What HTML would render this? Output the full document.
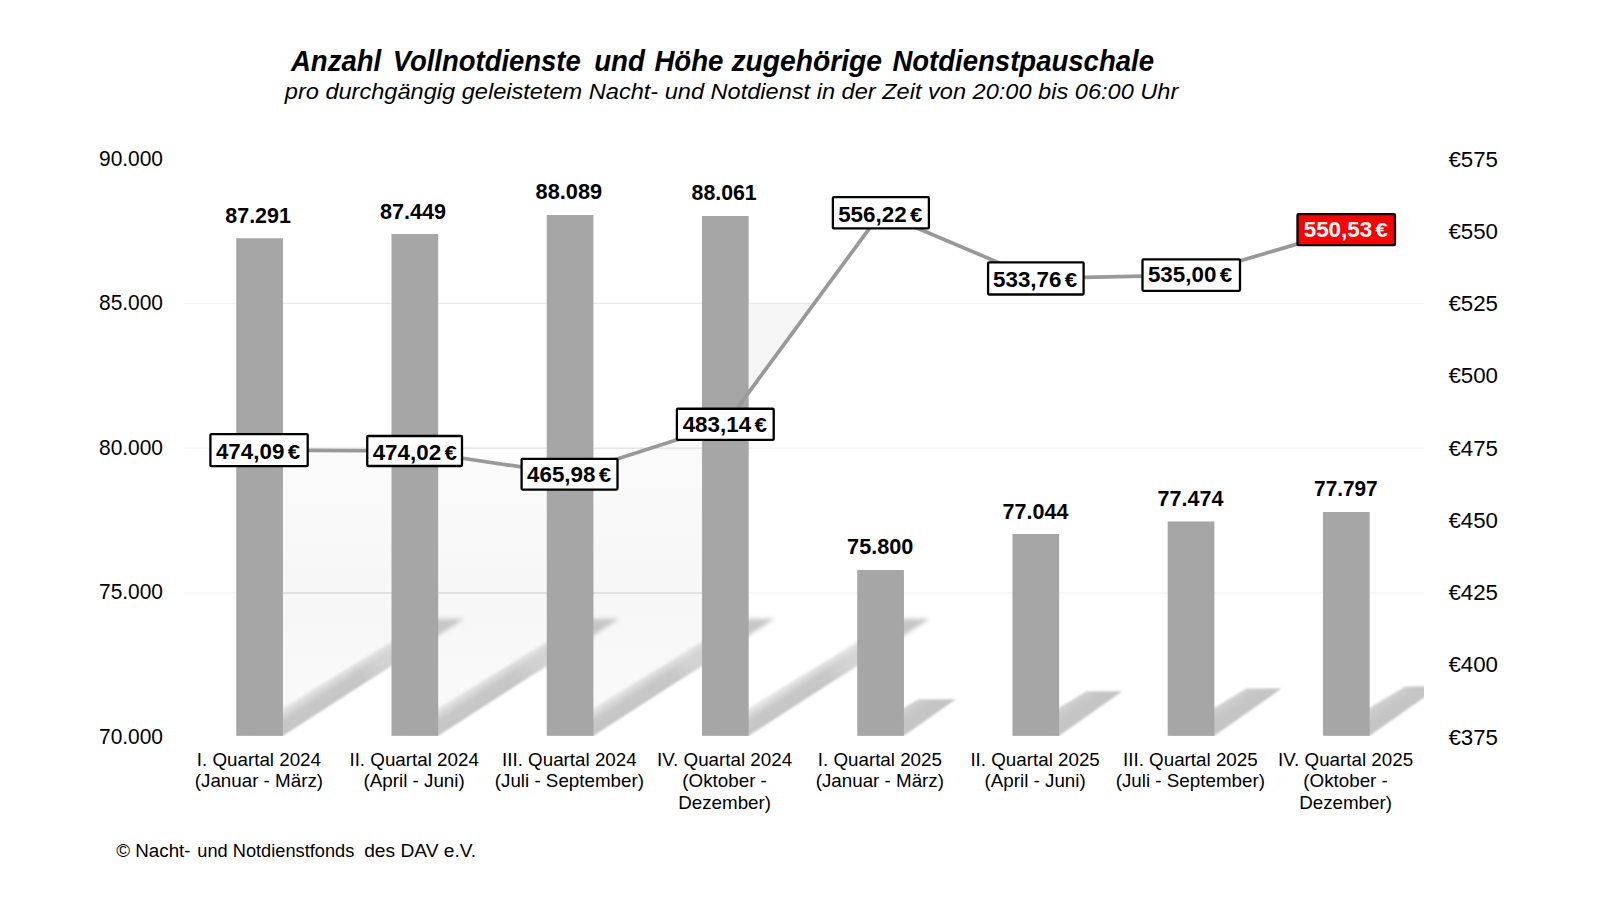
<!DOCTYPE html>
<html lang="de"><head><meta charset="utf-8"><title>Anzahl Vollnotdienste und Notdienstpauschale</title>
<style>html,body{margin:0;padding:0;background:#fff;width:1600px;height:900px;overflow:hidden}svg{display:block}text{font-family:'Liberation Sans', Arial, sans-serif;fill:#000}</style>
</head><body>
<svg width="1600" height="900" viewBox="0 0 1600 900">
<defs>
<filter id="b2" x="-20%" y="-20%" width="140%" height="140%"><feGaussianBlur stdDeviation="2.2"/></filter>
<filter id="b1" x="-20%" y="-20%" width="140%" height="140%"><feGaussianBlur stdDeviation="1.3"/></filter>
<filter id="b3" x="-20%" y="-20%" width="140%" height="140%"><feGaussianBlur stdDeviation="3"/></filter>
<filter id="b1b" x="-20%" y="-20%" width="140%" height="140%"><feGaussianBlur stdDeviation="1.6"/></filter>
<clipPath id="plot"><rect x="184" y="150" width="1240" height="586"/></clipPath>
<linearGradient id="gshade" x1="0" y1="0" x2="0" y2="1"><stop offset="0" stop-color="#fbfbfb"/><stop offset="0.5" stop-color="#f7f7f7"/><stop offset="1" stop-color="#fafafa"/></linearGradient>
</defs>
<rect width="1600" height="900" fill="#ffffff"/>
<g clip-path="url(#plot)">
<polygon points="283.0,450.3 391.5,450.9 391.5,665.5 283.0,735.8" fill="url(#gshade)"/>
<polygon points="438.2,454.5 546.7,470.8 546.7,665.5 438.2,735.8" fill="url(#gshade)"/>
<polygon points="593.4,466.6 702.0,431.8 702.0,665.5 593.4,735.8" fill="url(#gshade)"/>
<polygon points="748.7,303.4 814.2,303.4 748.7,392.5" fill="#f5f5f5"/>
</g>
<line x1="184.5" x2="1424" y1="303.4" y2="303.4" stroke="#f4f4f4" stroke-width="1.4"/>
<line x1="184.5" x2="1424" y1="448.3" y2="448.3" stroke="#f5f5f5" stroke-width="1.4"/>
<line x1="184.5" x2="1424" y1="593" y2="593" stroke="#f5f5f5" stroke-width="1.4"/>
<line x1="283" x2="703" y1="593" y2="593" stroke="#dadada" stroke-width="1.6"/>
<line x1="283" x2="703" y1="448.3" y2="448.3" stroke="#e6e6e6" stroke-width="1.4"/>
<line x1="283" x2="815" y1="303.4" y2="303.4" stroke="#eaeaea" stroke-width="1.4"/>
<defs><linearGradient id="sg0" gradientUnits="userSpaceOnUse" x1="282.95" y1="735.80" x2="269.19" y2="714.51"><stop offset="0" stop-color="#c5c5c5"/><stop offset="0.48" stop-color="#c8c8c8"/><stop offset="0.85" stop-color="#cacaca" stop-opacity="0.45"/><stop offset="1" stop-color="#cacaca" stop-opacity="0.08"/></linearGradient><linearGradient id="ma0" gradientUnits="userSpaceOnUse" x1="282.95" y1="735.80" x2="463.95" y2="618.80"><stop offset="0" stop-color="#fff"/><stop offset="0.45" stop-color="#fff"/><stop offset="0.80" stop-color="#000"/><stop offset="1" stop-color="#000"/></linearGradient><linearGradient id="mb0" gradientUnits="userSpaceOnUse" x1="282.95" y1="735.80" x2="463.95" y2="618.80"><stop offset="0" stop-color="#000"/><stop offset="0.45" stop-color="#000"/><stop offset="0.80" stop-color="#fff"/><stop offset="1" stop-color="#fff"/></linearGradient><mask id="mka0" maskUnits="userSpaceOnUse" x="0" y="0" width="1600" height="900"><rect x="0" y="0" width="1600" height="900" fill="url(#ma0)"/></mask><mask id="mkb0" maskUnits="userSpaceOnUse" x="0" y="0" width="1600" height="900"><rect x="0" y="0" width="1600" height="900" fill="url(#mb0)"/></mask><linearGradient id="sg1" gradientUnits="userSpaceOnUse" x1="438.19" y1="735.80" x2="424.43" y2="714.51"><stop offset="0" stop-color="#c5c5c5"/><stop offset="0.48" stop-color="#c8c8c8"/><stop offset="0.85" stop-color="#cacaca" stop-opacity="0.45"/><stop offset="1" stop-color="#cacaca" stop-opacity="0.08"/></linearGradient><linearGradient id="ma1" gradientUnits="userSpaceOnUse" x1="438.19" y1="735.80" x2="619.19" y2="618.80"><stop offset="0" stop-color="#fff"/><stop offset="0.45" stop-color="#fff"/><stop offset="0.80" stop-color="#000"/><stop offset="1" stop-color="#000"/></linearGradient><linearGradient id="mb1" gradientUnits="userSpaceOnUse" x1="438.19" y1="735.80" x2="619.19" y2="618.80"><stop offset="0" stop-color="#000"/><stop offset="0.45" stop-color="#000"/><stop offset="0.80" stop-color="#fff"/><stop offset="1" stop-color="#fff"/></linearGradient><mask id="mka1" maskUnits="userSpaceOnUse" x="0" y="0" width="1600" height="900"><rect x="0" y="0" width="1600" height="900" fill="url(#ma1)"/></mask><mask id="mkb1" maskUnits="userSpaceOnUse" x="0" y="0" width="1600" height="900"><rect x="0" y="0" width="1600" height="900" fill="url(#mb1)"/></mask><linearGradient id="sg2" gradientUnits="userSpaceOnUse" x1="593.43" y1="735.80" x2="579.67" y2="714.51"><stop offset="0" stop-color="#c5c5c5"/><stop offset="0.48" stop-color="#c8c8c8"/><stop offset="0.85" stop-color="#cacaca" stop-opacity="0.45"/><stop offset="1" stop-color="#cacaca" stop-opacity="0.08"/></linearGradient><linearGradient id="ma2" gradientUnits="userSpaceOnUse" x1="593.43" y1="735.80" x2="774.43" y2="618.80"><stop offset="0" stop-color="#fff"/><stop offset="0.45" stop-color="#fff"/><stop offset="0.80" stop-color="#000"/><stop offset="1" stop-color="#000"/></linearGradient><linearGradient id="mb2" gradientUnits="userSpaceOnUse" x1="593.43" y1="735.80" x2="774.43" y2="618.80"><stop offset="0" stop-color="#000"/><stop offset="0.45" stop-color="#000"/><stop offset="0.80" stop-color="#fff"/><stop offset="1" stop-color="#fff"/></linearGradient><mask id="mka2" maskUnits="userSpaceOnUse" x="0" y="0" width="1600" height="900"><rect x="0" y="0" width="1600" height="900" fill="url(#ma2)"/></mask><mask id="mkb2" maskUnits="userSpaceOnUse" x="0" y="0" width="1600" height="900"><rect x="0" y="0" width="1600" height="900" fill="url(#mb2)"/></mask><linearGradient id="sg3" gradientUnits="userSpaceOnUse" x1="748.67" y1="735.80" x2="734.91" y2="714.51"><stop offset="0" stop-color="#c5c5c5"/><stop offset="0.48" stop-color="#c8c8c8"/><stop offset="0.85" stop-color="#cacaca" stop-opacity="0.45"/><stop offset="1" stop-color="#cacaca" stop-opacity="0.08"/></linearGradient><linearGradient id="ma3" gradientUnits="userSpaceOnUse" x1="748.67" y1="735.80" x2="929.67" y2="618.80"><stop offset="0" stop-color="#fff"/><stop offset="0.45" stop-color="#fff"/><stop offset="0.80" stop-color="#000"/><stop offset="1" stop-color="#000"/></linearGradient><linearGradient id="mb3" gradientUnits="userSpaceOnUse" x1="748.67" y1="735.80" x2="929.67" y2="618.80"><stop offset="0" stop-color="#000"/><stop offset="0.45" stop-color="#000"/><stop offset="0.80" stop-color="#fff"/><stop offset="1" stop-color="#fff"/></linearGradient><mask id="mka3" maskUnits="userSpaceOnUse" x="0" y="0" width="1600" height="900"><rect x="0" y="0" width="1600" height="900" fill="url(#ma3)"/></mask><mask id="mkb3" maskUnits="userSpaceOnUse" x="0" y="0" width="1600" height="900"><rect x="0" y="0" width="1600" height="900" fill="url(#mb3)"/></mask><linearGradient id="sg4" gradientUnits="userSpaceOnUse" x1="903.91" y1="735.80" x2="888.42" y2="713.81"><stop offset="0" stop-color="#c4c4c4"/><stop offset="0.45" stop-color="#c6c6c6"/><stop offset="1" stop-color="#d2d2d2" stop-opacity="0.9"/></linearGradient><linearGradient id="ma4" gradientUnits="userSpaceOnUse" x1="903.91" y1="735.80" x2="955.81" y2="699.24"><stop offset="0" stop-color="#fff"/><stop offset="0.50" stop-color="#fff"/><stop offset="0.90" stop-color="#000"/><stop offset="1" stop-color="#000"/></linearGradient><linearGradient id="mb4" gradientUnits="userSpaceOnUse" x1="903.91" y1="735.80" x2="955.81" y2="699.24"><stop offset="0" stop-color="#000"/><stop offset="0.50" stop-color="#000"/><stop offset="0.90" stop-color="#fff"/><stop offset="1" stop-color="#fff"/></linearGradient><mask id="mka4" maskUnits="userSpaceOnUse" x="0" y="0" width="1600" height="900"><rect x="0" y="0" width="1600" height="900" fill="url(#ma4)"/></mask><mask id="mkb4" maskUnits="userSpaceOnUse" x="0" y="0" width="1600" height="900"><rect x="0" y="0" width="1600" height="900" fill="url(#mb4)"/></mask><linearGradient id="sg5" gradientUnits="userSpaceOnUse" x1="1059.15" y1="735.80" x2="1043.66" y2="713.81"><stop offset="0" stop-color="#c4c4c4"/><stop offset="0.45" stop-color="#c6c6c6"/><stop offset="1" stop-color="#d2d2d2" stop-opacity="0.9"/></linearGradient><linearGradient id="ma5" gradientUnits="userSpaceOnUse" x1="1059.15" y1="735.80" x2="1122.31" y2="691.30"><stop offset="0" stop-color="#fff"/><stop offset="0.50" stop-color="#fff"/><stop offset="0.90" stop-color="#000"/><stop offset="1" stop-color="#000"/></linearGradient><linearGradient id="mb5" gradientUnits="userSpaceOnUse" x1="1059.15" y1="735.80" x2="1122.31" y2="691.30"><stop offset="0" stop-color="#000"/><stop offset="0.50" stop-color="#000"/><stop offset="0.90" stop-color="#fff"/><stop offset="1" stop-color="#fff"/></linearGradient><mask id="mka5" maskUnits="userSpaceOnUse" x="0" y="0" width="1600" height="900"><rect x="0" y="0" width="1600" height="900" fill="url(#ma5)"/></mask><mask id="mkb5" maskUnits="userSpaceOnUse" x="0" y="0" width="1600" height="900"><rect x="0" y="0" width="1600" height="900" fill="url(#mb5)"/></mask><linearGradient id="sg6" gradientUnits="userSpaceOnUse" x1="1214.39" y1="735.80" x2="1198.90" y2="713.81"><stop offset="0" stop-color="#c4c4c4"/><stop offset="0.45" stop-color="#c6c6c6"/><stop offset="1" stop-color="#d2d2d2" stop-opacity="0.9"/></linearGradient><linearGradient id="ma6" gradientUnits="userSpaceOnUse" x1="1214.39" y1="735.80" x2="1281.47" y2="688.55"><stop offset="0" stop-color="#fff"/><stop offset="0.50" stop-color="#fff"/><stop offset="0.90" stop-color="#000"/><stop offset="1" stop-color="#000"/></linearGradient><linearGradient id="mb6" gradientUnits="userSpaceOnUse" x1="1214.39" y1="735.80" x2="1281.47" y2="688.55"><stop offset="0" stop-color="#000"/><stop offset="0.50" stop-color="#000"/><stop offset="0.90" stop-color="#fff"/><stop offset="1" stop-color="#fff"/></linearGradient><mask id="mka6" maskUnits="userSpaceOnUse" x="0" y="0" width="1600" height="900"><rect x="0" y="0" width="1600" height="900" fill="url(#ma6)"/></mask><mask id="mkb6" maskUnits="userSpaceOnUse" x="0" y="0" width="1600" height="900"><rect x="0" y="0" width="1600" height="900" fill="url(#mb6)"/></mask><linearGradient id="sg7" gradientUnits="userSpaceOnUse" x1="1369.63" y1="735.80" x2="1354.14" y2="713.81"><stop offset="0" stop-color="#c4c4c4"/><stop offset="0.45" stop-color="#c6c6c6"/><stop offset="1" stop-color="#d2d2d2" stop-opacity="0.9"/></linearGradient><linearGradient id="ma7" gradientUnits="userSpaceOnUse" x1="1369.63" y1="735.80" x2="1439.68" y2="686.45"><stop offset="0" stop-color="#fff"/><stop offset="0.50" stop-color="#fff"/><stop offset="0.90" stop-color="#000"/><stop offset="1" stop-color="#000"/></linearGradient><linearGradient id="mb7" gradientUnits="userSpaceOnUse" x1="1369.63" y1="735.80" x2="1439.68" y2="686.45"><stop offset="0" stop-color="#000"/><stop offset="0.50" stop-color="#000"/><stop offset="0.90" stop-color="#fff"/><stop offset="1" stop-color="#fff"/></linearGradient><mask id="mka7" maskUnits="userSpaceOnUse" x="0" y="0" width="1600" height="900"><rect x="0" y="0" width="1600" height="900" fill="url(#ma7)"/></mask><mask id="mkb7" maskUnits="userSpaceOnUse" x="0" y="0" width="1600" height="900"><rect x="0" y="0" width="1600" height="900" fill="url(#mb7)"/></mask></defs>
<g clip-path="url(#plot)">
<g mask="url(#mka0)"><g filter="url(#b1)"><polygon points="240.3,735.8 283.0,735.8 464.0,618.8 430.2,618.8 240.3,733.4" fill="url(#sg0)"/></g></g><g mask="url(#mkb0)"><g filter="url(#b2)"><polygon points="240.3,735.8 283.0,735.8 464.0,618.8 430.2,618.8 240.3,733.4" fill="url(#sg0)"/></g></g>
<g mask="url(#mka1)"><g filter="url(#b1)"><polygon points="395.5,735.8 438.2,735.8 619.2,618.8 585.5,618.8 395.5,733.4" fill="url(#sg1)"/></g></g><g mask="url(#mkb1)"><g filter="url(#b2)"><polygon points="395.5,735.8 438.2,735.8 619.2,618.8 585.5,618.8 395.5,733.4" fill="url(#sg1)"/></g></g>
<g mask="url(#mka2)"><g filter="url(#b1)"><polygon points="550.7,735.8 593.4,735.8 774.4,618.8 740.7,618.8 550.7,733.4" fill="url(#sg2)"/></g></g><g mask="url(#mkb2)"><g filter="url(#b2)"><polygon points="550.7,735.8 593.4,735.8 774.4,618.8 740.7,618.8 550.7,733.4" fill="url(#sg2)"/></g></g>
<g mask="url(#mka3)"><g filter="url(#b1)"><polygon points="706.0,735.8 748.7,735.8 929.7,618.8 896.0,618.8 706.0,733.4" fill="url(#sg3)"/></g></g><g mask="url(#mkb3)"><g filter="url(#b2)"><polygon points="706.0,735.8 748.7,735.8 929.7,618.8 896.0,618.8 706.0,733.4" fill="url(#sg3)"/></g></g>
<g filter="url(#b1)"><polygon points="861.2,735.8 903.9,735.8 955.8,699.2 918.2,699.2 861.2,733.4" fill="url(#sg4)"/></g>
<g filter="url(#b1)"><polygon points="1016.5,735.8 1059.2,735.8 1122.3,691.3 1086.6,691.3 1016.5,733.4" fill="url(#sg5)"/></g>
<g filter="url(#b1)"><polygon points="1171.7,735.8 1214.4,735.8 1281.5,688.5 1246.5,688.5 1171.7,733.4" fill="url(#sg6)"/></g>
<g filter="url(#b1)"><polygon points="1326.9,735.8 1369.6,735.8 1439.7,686.5 1405.2,686.5 1326.9,733.4" fill="url(#sg7)"/></g>
</g>
<rect x="236.25" y="238.25" width="46.70" height="497.55" fill="#a6a6a6"/>
<rect x="391.49" y="234.00" width="46.70" height="501.80" fill="#a6a6a6"/>
<rect x="546.73" y="215.00" width="46.70" height="520.80" fill="#a6a6a6"/>
<rect x="701.97" y="216.00" width="46.70" height="519.80" fill="#a6a6a6"/>
<rect x="857.21" y="570.00" width="46.70" height="165.80" fill="#a6a6a6"/>
<rect x="1012.45" y="534.00" width="46.70" height="201.80" fill="#a6a6a6"/>
<rect x="1167.69" y="521.50" width="46.70" height="214.30" fill="#a6a6a6"/>
<rect x="1322.93" y="512.00" width="46.70" height="223.80" fill="#a6a6a6"/>
<polyline points="259.1,450.1 414.6,451.0 569.5,474.2 725.3,424.3 880.9,212.8 1035.8,278.4 1191.2,275.1 1346.2,229.7" fill="none" stroke="#999999" stroke-width="3.7" stroke-linejoin="round"/>
<text x="225.35" y="222.50" font-size="22.9" font-weight="bold" textLength="65.50" lengthAdjust="spacingAndGlyphs">87.291</text>
<text x="380.10" y="218.50" font-size="22.9" font-weight="bold" textLength="66.00" lengthAdjust="spacingAndGlyphs">87.449</text>
<text x="535.60" y="198.75" font-size="22.9" font-weight="bold" textLength="66.50" lengthAdjust="spacingAndGlyphs">88.089</text>
<text x="691.60" y="200.00" font-size="22.9" font-weight="bold" textLength="65.00" lengthAdjust="spacingAndGlyphs">88.061</text>
<text x="847.10" y="554.25" font-size="22.9" font-weight="bold" textLength="66.25" lengthAdjust="spacingAndGlyphs">75.800</text>
<text x="1002.60" y="519.25" font-size="22.9" font-weight="bold" textLength="65.75" lengthAdjust="spacingAndGlyphs">77.044</text>
<text x="1157.60" y="506.25" font-size="22.9" font-weight="bold" textLength="65.75" lengthAdjust="spacingAndGlyphs">77.474</text>
<text x="1314.10" y="496.25" font-size="22.9" font-weight="bold" textLength="63.50" lengthAdjust="spacingAndGlyphs">77.797</text>
<rect x="210.40" y="434.10" width="97.30" height="32.10" rx="1" fill="#ffffff" stroke="#000" stroke-width="2.3"/>
<text y="459.10" font-size="22.6" font-weight="bold"><tspan x="215.95" textLength="68.4" lengthAdjust="spacingAndGlyphs">474,09</tspan><tspan font-size="4"> </tspan><tspan x="287.75" font-size="21" textLength="12.4" lengthAdjust="spacingAndGlyphs">€</tspan></text>
<rect x="367.25" y="436.00" width="94.75" height="30.00" rx="1" fill="#ffffff" stroke="#000" stroke-width="2.3"/>
<text y="459.50" font-size="22.6" font-weight="bold"><tspan x="372.70" textLength="68.4" lengthAdjust="spacingAndGlyphs">474,02</tspan><tspan font-size="4"> </tspan><tspan x="444.50" font-size="21" textLength="12.4" lengthAdjust="spacingAndGlyphs">€</tspan></text>
<rect x="521.60" y="458.80" width="95.90" height="30.80" rx="1" fill="#ffffff" stroke="#000" stroke-width="2.3"/>
<text y="482.20" font-size="22.6" font-weight="bold"><tspan x="527.05" textLength="68.4" lengthAdjust="spacingAndGlyphs">465,98</tspan><tspan font-size="4"> </tspan><tspan x="598.85" font-size="21" textLength="12.4" lengthAdjust="spacingAndGlyphs">€</tspan></text>
<rect x="676.90" y="408.75" width="96.80" height="31.15" rx="1" fill="#ffffff" stroke="#000" stroke-width="2.3"/>
<text y="431.60" font-size="22.6" font-weight="bold"><tspan x="682.70" textLength="68.4" lengthAdjust="spacingAndGlyphs">483,14</tspan><tspan font-size="4"> </tspan><tspan x="754.50" font-size="21" textLength="12.4" lengthAdjust="spacingAndGlyphs">€</tspan></text>
<rect x="832.90" y="197.10" width="96.00" height="31.30" rx="1" fill="#ffffff" stroke="#000" stroke-width="2.3"/>
<text y="221.65" font-size="22.6" font-weight="bold"><tspan x="838.20" textLength="68.4" lengthAdjust="spacingAndGlyphs">556,22</tspan><tspan font-size="4"> </tspan><tspan x="910.00" font-size="21" textLength="12.4" lengthAdjust="spacingAndGlyphs">€</tspan></text>
<rect x="988.10" y="262.40" width="95.50" height="32.10" rx="1" fill="#ffffff" stroke="#000" stroke-width="2.3"/>
<text y="286.75" font-size="22.6" font-weight="bold"><tspan x="993.05" textLength="68.4" lengthAdjust="spacingAndGlyphs">533,76</tspan><tspan font-size="4"> </tspan><tspan x="1064.85" font-size="21" textLength="12.4" lengthAdjust="spacingAndGlyphs">€</tspan></text>
<rect x="1142.50" y="259.40" width="97.50" height="31.40" rx="1" fill="#ffffff" stroke="#000" stroke-width="2.3"/>
<text y="281.80" font-size="22.6" font-weight="bold"><tspan x="1147.95" textLength="68.4" lengthAdjust="spacingAndGlyphs">535,00</tspan><tspan font-size="4"> </tspan><tspan x="1219.75" font-size="21" textLength="12.4" lengthAdjust="spacingAndGlyphs">€</tspan></text>
<rect x="1297.50" y="214.20" width="97.50" height="31.00" rx="1" fill="#ff0000" stroke="#000" stroke-width="2.3"/>
<text y="237.20" font-size="22.6" font-weight="bold" style="fill:#fff"><tspan x="1303.75" textLength="68.4" lengthAdjust="spacingAndGlyphs">550,53</tspan><tspan font-size="4"> </tspan><tspan x="1375.55" font-size="21" textLength="12.4" lengthAdjust="spacingAndGlyphs">€</tspan></text>
<text x="99" y="165.50" font-size="22.4" textLength="64" lengthAdjust="spacingAndGlyphs">90.000</text>
<text x="99" y="310.00" font-size="22.4" textLength="64" lengthAdjust="spacingAndGlyphs">85.000</text>
<text x="99" y="454.50" font-size="22.4" textLength="64" lengthAdjust="spacingAndGlyphs">80.000</text>
<text x="99" y="599.00" font-size="22.4" textLength="64" lengthAdjust="spacingAndGlyphs">75.000</text>
<text x="99" y="743.50" font-size="22.4" textLength="64" lengthAdjust="spacingAndGlyphs">70.000</text>
<text x="1448.5" y="166.50" font-size="22.4" textLength="49.5" lengthAdjust="spacingAndGlyphs">€575</text>
<text x="1448.5" y="238.75" font-size="22.4" textLength="49.5" lengthAdjust="spacingAndGlyphs">€550</text>
<text x="1448.5" y="311.00" font-size="22.4" textLength="49.5" lengthAdjust="spacingAndGlyphs">€525</text>
<text x="1448.5" y="383.25" font-size="22.4" textLength="49.5" lengthAdjust="spacingAndGlyphs">€500</text>
<text x="1448.5" y="455.50" font-size="22.4" textLength="49.5" lengthAdjust="spacingAndGlyphs">€475</text>
<text x="1448.5" y="527.75" font-size="22.4" textLength="49.5" lengthAdjust="spacingAndGlyphs">€450</text>
<text x="1448.5" y="600.00" font-size="22.4" textLength="49.5" lengthAdjust="spacingAndGlyphs">€425</text>
<text x="1448.5" y="672.25" font-size="22.4" textLength="49.5" lengthAdjust="spacingAndGlyphs">€400</text>
<text x="1448.5" y="744.50" font-size="22.4" textLength="49.5" lengthAdjust="spacingAndGlyphs">€375</text>
<text x="258.90" y="765.75" font-size="18.5" text-anchor="middle" textLength="124.2" lengthAdjust="spacingAndGlyphs">I. Quartal 2024</text>
<text x="258.90" y="787.45" font-size="18.5" text-anchor="middle" textLength="128.3" lengthAdjust="spacingAndGlyphs">(Januar - März)</text>
<text x="414.14" y="765.75" font-size="18.5" text-anchor="middle" textLength="129.4" lengthAdjust="spacingAndGlyphs">II. Quartal 2024</text>
<text x="414.14" y="787.45" font-size="18.5" text-anchor="middle" textLength="101.2" lengthAdjust="spacingAndGlyphs">(April - Juni)</text>
<text x="569.38" y="765.75" font-size="18.5" text-anchor="middle" textLength="134.7" lengthAdjust="spacingAndGlyphs">III. Quartal 2024</text>
<text x="569.38" y="787.45" font-size="18.5" text-anchor="middle" textLength="149.2" lengthAdjust="spacingAndGlyphs">(Juli - September)</text>
<text x="724.62" y="765.75" font-size="18.5" text-anchor="middle" textLength="135.0" lengthAdjust="spacingAndGlyphs">IV. Quartal 2024</text>
<text x="724.62" y="787.45" font-size="18.5" text-anchor="middle" textLength="84.5" lengthAdjust="spacingAndGlyphs">(Oktober -</text>
<text x="724.62" y="809.15" font-size="18.5" text-anchor="middle" textLength="92.9" lengthAdjust="spacingAndGlyphs">Dezember)</text>
<text x="879.86" y="765.75" font-size="18.5" text-anchor="middle" textLength="124.2" lengthAdjust="spacingAndGlyphs">I. Quartal 2025</text>
<text x="879.86" y="787.45" font-size="18.5" text-anchor="middle" textLength="128.3" lengthAdjust="spacingAndGlyphs">(Januar - März)</text>
<text x="1035.10" y="765.75" font-size="18.5" text-anchor="middle" textLength="129.4" lengthAdjust="spacingAndGlyphs">II. Quartal 2025</text>
<text x="1035.10" y="787.45" font-size="18.5" text-anchor="middle" textLength="101.2" lengthAdjust="spacingAndGlyphs">(April - Juni)</text>
<text x="1190.34" y="765.75" font-size="18.5" text-anchor="middle" textLength="134.7" lengthAdjust="spacingAndGlyphs">III. Quartal 2025</text>
<text x="1190.34" y="787.45" font-size="18.5" text-anchor="middle" textLength="149.2" lengthAdjust="spacingAndGlyphs">(Juli - September)</text>
<text x="1345.58" y="765.75" font-size="18.5" text-anchor="middle" textLength="135.0" lengthAdjust="spacingAndGlyphs">IV. Quartal 2025</text>
<text x="1345.58" y="787.45" font-size="18.5" text-anchor="middle" textLength="84.5" lengthAdjust="spacingAndGlyphs">(Oktober -</text>
<text x="1345.58" y="809.15" font-size="18.5" text-anchor="middle" textLength="92.9" lengthAdjust="spacingAndGlyphs">Dezember)</text>
<text y="70.8" font-size="28.8" font-weight="bold" font-style="italic">
<tspan x="290.95" textLength="90.25" lengthAdjust="spacingAndGlyphs">Anzahl</tspan> 
<tspan x="392.70" textLength="188.00" lengthAdjust="spacingAndGlyphs">Vollnotdienste</tspan> 
<tspan x="594.20" textLength="50.75" lengthAdjust="spacingAndGlyphs">und</tspan> 
<tspan x="654.40" textLength="69.10" lengthAdjust="spacingAndGlyphs">Höhe</tspan> 
<tspan x="731.40" textLength="150.60" lengthAdjust="spacingAndGlyphs">zugehörige</tspan> 
<tspan x="892.40" textLength="261.60" lengthAdjust="spacingAndGlyphs">Notdienstpauschale</tspan> 
</text>
<text x="284.8" y="98.8" font-size="22.2" font-style="italic" textLength="893.5" lengthAdjust="spacingAndGlyphs">pro durchgängig geleistetem Nacht- und Notdienst in der Zeit von 20:00 bis 06:00 Uhr</text>
<text y="856.7" font-size="18.8"><tspan x="116.2">© Nacht-</tspan> <tspan x="197.3" textLength="157" lengthAdjust="spacingAndGlyphs">und Notdienstfonds</tspan> <tspan x="364.2" textLength="112" lengthAdjust="spacingAndGlyphs">des DAV e.V.</tspan></text>
</svg></body></html>
